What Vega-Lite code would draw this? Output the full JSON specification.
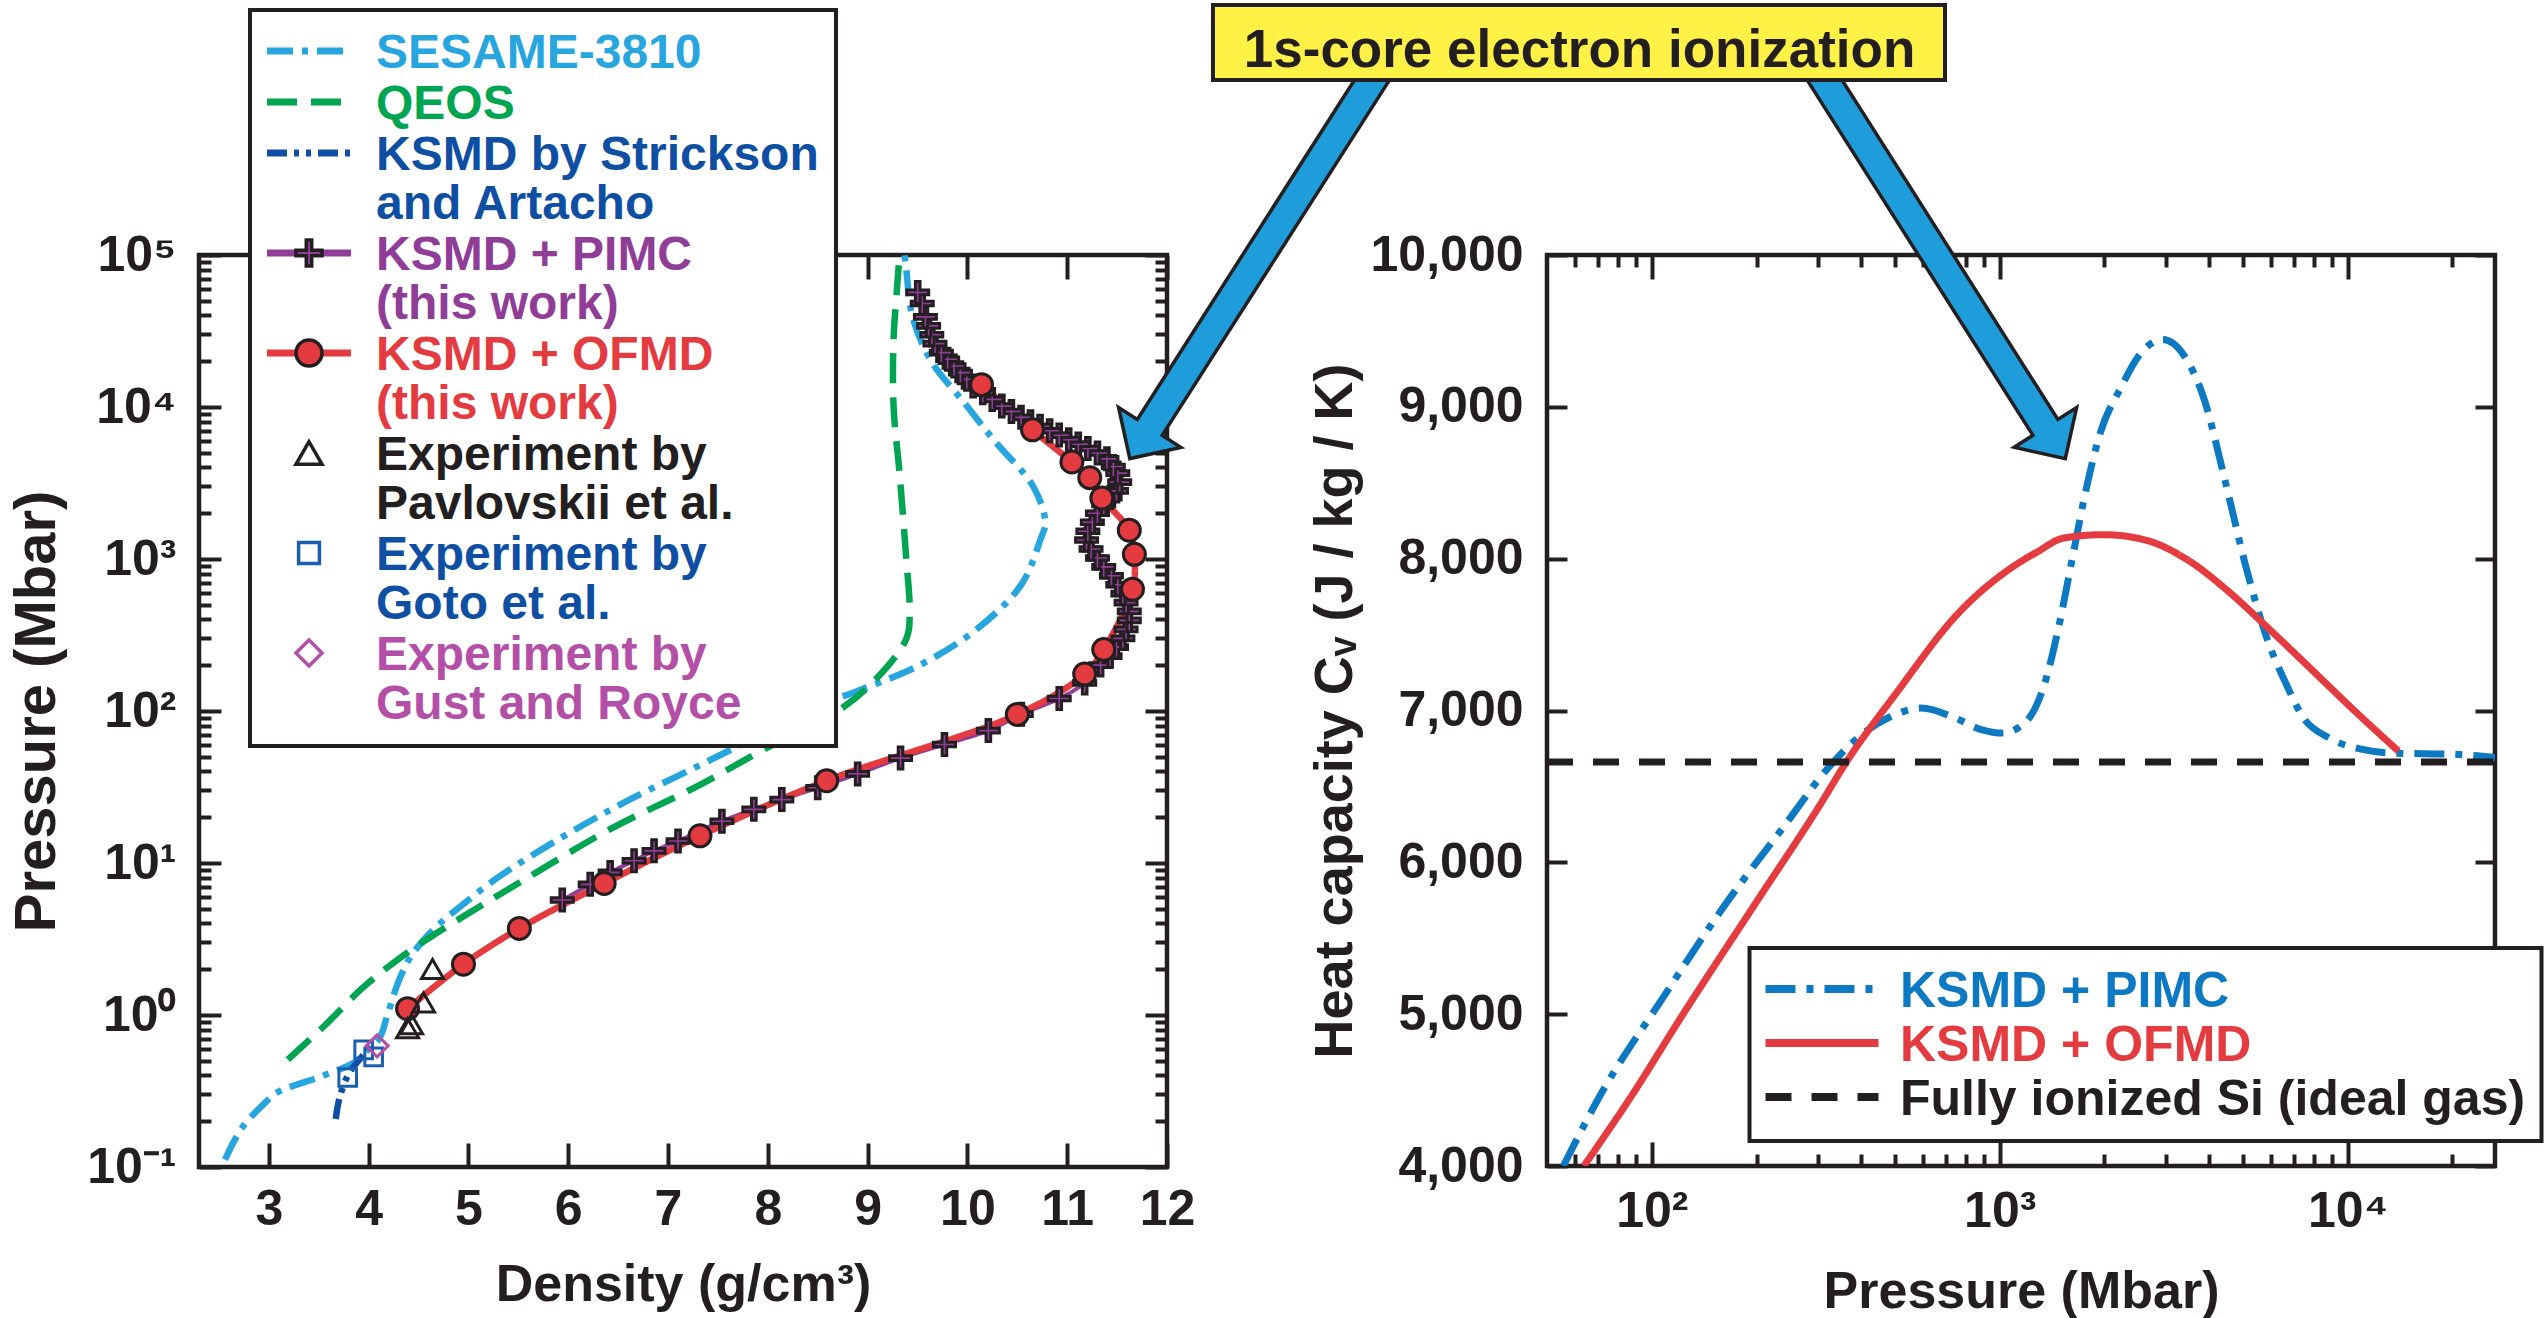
{
  "$schema": "https://vega.github.io/schema/vega-lite/v6.json",
  "background": "white",
  "padding": {"left": 6, "top": 0, "right": 0, "bottom": 0},
  "bounds": "flush",
  "spacing": 380,
  "datasets": {
    "eos": [
      {"series": "SESAME-3810", "d": 2.56, "p": 0.112},
      {"series": "SESAME-3810", "d": 2.73, "p": 0.181},
      {"series": "SESAME-3810", "d": 2.96, "p": 0.264},
      {"series": "SESAME-3810", "d": 3.07, "p": 0.306},
      {"series": "SESAME-3810", "d": 3.55, "p": 0.40},
      {"series": "SESAME-3810", "d": 3.87, "p": 0.493},
      {"series": "SESAME-3810", "d": 3.99, "p": 0.59},
      {"series": "SESAME-3810", "d": 4.11, "p": 0.706},
      {"series": "SESAME-3810", "d": 4.19, "p": 1.01},
      {"series": "SESAME-3810", "d": 4.31, "p": 1.73},
      {"series": "SESAME-3810", "d": 4.43, "p": 2.47},
      {"series": "SESAME-3810", "d": 4.67, "p": 3.76},
      {"series": "SESAME-3810", "d": 4.95, "p": 5.37},
      {"series": "SESAME-3810", "d": 5.31, "p": 8.16},
      {"series": "SESAME-3810", "d": 5.94, "p": 14.8},
      {"series": "SESAME-3810", "d": 6.58, "p": 25.4},
      {"series": "SESAME-3810", "d": 7.30, "p": 43.4},
      {"series": "SESAME-3810", "d": 7.94, "p": 70.2},
      {"series": "SESAME-3810", "d": 8.58, "p": 113},
      {"series": "SESAME-3810", "d": 8.88, "p": 134},
      {"series": "SESAME-3810", "d": 9.52, "p": 200},
      {"series": "SESAME-3810", "d": 10.09, "p": 344},
      {"series": "SESAME-3810", "d": 10.54, "p": 678},
      {"series": "SESAME-3810", "d": 10.73, "p": 1334},
      {"series": "SESAME-3810", "d": 10.78, "p": 1746},
      {"series": "SESAME-3810", "d": 10.66, "p": 3000},
      {"series": "SESAME-3810", "d": 10.28, "p": 5900},
      {"series": "SESAME-3810", "d": 9.96, "p": 10840},
      {"series": "SESAME-3810", "d": 9.64, "p": 19910},
      {"series": "SESAME-3810", "d": 9.45, "p": 39170},
      {"series": "SESAME-3810", "d": 9.39, "p": 77090},
      {"series": "SESAME-3810", "d": 9.37, "p": 100000},
      {"series": "QEOS", "d": 3.19, "p": 0.508},
      {"series": "QEOS", "d": 3.55, "p": 0.84},
      {"series": "QEOS", "d": 3.95, "p": 1.53},
      {"series": "QEOS", "d": 4.35, "p": 2.47},
      {"series": "QEOS", "d": 4.83, "p": 3.98},
      {"series": "QEOS", "d": 5.55, "p": 7.7},
      {"series": "QEOS", "d": 6.42, "p": 16.7},
      {"series": "QEOS", "d": 7.30, "p": 32.2},
      {"series": "QEOS", "d": 8.02, "p": 58.5},
      {"series": "QEOS", "d": 8.58, "p": 89},
      {"series": "QEOS", "d": 9.00, "p": 143},
      {"series": "QEOS", "d": 9.39, "p": 301},
      {"series": "QEOS", "d": 9.42, "p": 483},
      {"series": "QEOS", "d": 9.39, "p": 950},
      {"series": "QEOS", "d": 9.32, "p": 3673},
      {"series": "QEOS", "d": 9.26, "p": 10140},
      {"series": "QEOS", "d": 9.26, "p": 27930},
      {"series": "QEOS", "d": 9.29, "p": 54950},
      {"series": "QEOS", "d": 9.32, "p": 100000},
      {"series": "KSMD by Strickson|and Artacho", "d": 3.67, "p": 0.207},
      {"series": "KSMD by Strickson|and Artacho", "d": 3.71, "p": 0.288},
      {"series": "KSMD by Strickson|and Artacho", "d": 3.80, "p": 0.41},
      {"series": "KSMD by Strickson|and Artacho", "d": 3.92, "p": 0.52},
      {"series": "KSMD by Strickson|and Artacho", "d": 4.02, "p": 0.62},
      {"series": "KSMD + PIMC|(this work)", "d": 5.94, "p": 5.71},
      {"series": "KSMD + PIMC|(this work)", "d": 6.22, "p": 7.24},
      {"series": "KSMD + PIMC|(this work)", "d": 6.42, "p": 8.67},
      {"series": "KSMD + PIMC|(this work)", "d": 6.66, "p": 10.35},
      {"series": "KSMD + PIMC|(this work)", "d": 6.86, "p": 12.02},
      {"series": "KSMD + PIMC|(this work)", "d": 7.10, "p": 13.96},
      {"series": "KSMD + PIMC|(this work)", "d": 7.54, "p": 18.84},
      {"series": "KSMD + PIMC|(this work)", "d": 7.86, "p": 22.54},
      {"series": "KSMD + PIMC|(this work)", "d": 8.14, "p": 26.12},
      {"series": "KSMD + PIMC|(this work)", "d": 8.50, "p": 31.26},
      {"series": "KSMD + PIMC|(this work)", "d": 8.90, "p": 38.55},
      {"series": "KSMD + PIMC|(this work)", "d": 9.33, "p": 48.98},
      {"series": "KSMD + PIMC|(this work)", "d": 9.77, "p": 60.26},
      {"series": "KSMD + PIMC|(this work)", "d": 10.21, "p": 74.3},
      {"series": "KSMD + PIMC|(this work)", "d": 10.54, "p": 95.3},
      {"series": "KSMD + PIMC|(this work)", "d": 10.92, "p": 120.8},
      {"series": "KSMD + PIMC|(this work)", "d": 11.175, "p": 153.1},
      {"series": "KSMD + PIMC|(this work)", "d": 11.335, "p": 200.4},
      {"series": "KSMD + PIMC|(this work)", "d": 11.43, "p": 229.6},
      {"series": "KSMD + PIMC|(this work)", "d": 11.494, "p": 263.0},
      {"series": "KSMD + PIMC|(this work)", "d": 11.558, "p": 300.6},
      {"series": "KSMD + PIMC|(this work)", "d": 11.59, "p": 344.4},
      {"series": "KSMD + PIMC|(this work)", "d": 11.622, "p": 394.5},
      {"series": "KSMD + PIMC|(this work)", "d": 11.622, "p": 451.9},
      {"series": "KSMD + PIMC|(this work)", "d": 11.59, "p": 516.4},
      {"series": "KSMD + PIMC|(this work)", "d": 11.558, "p": 591.6},
      {"series": "KSMD + PIMC|(this work)", "d": 11.507, "p": 677.5},
      {"series": "KSMD + PIMC|(this work)", "d": 11.443, "p": 776.2},
      {"series": "KSMD + PIMC|(this work)", "d": 11.366, "p": 887.2},
      {"series": "KSMD + PIMC|(this work)", "d": 11.303, "p": 1016},
      {"series": "KSMD + PIMC|(this work)", "d": 11.239, "p": 1164},
      {"series": "KSMD + PIMC|(this work)", "d": 11.194, "p": 1334},
      {"series": "KSMD + PIMC|(this work)", "d": 11.207, "p": 1524},
      {"series": "KSMD + PIMC|(this work)", "d": 11.252, "p": 1746},
      {"series": "KSMD + PIMC|(this work)", "d": 11.303, "p": 2000},
      {"series": "KSMD + PIMC|(this work)", "d": 11.366, "p": 2286},
      {"series": "KSMD + PIMC|(this work)", "d": 11.43, "p": 2535},
      {"series": "KSMD + PIMC|(this work)", "d": 11.494, "p": 2805},
      {"series": "KSMD + PIMC|(this work)", "d": 11.526, "p": 3206},
      {"series": "KSMD + PIMC|(this work)", "d": 11.507, "p": 3673},
      {"series": "KSMD + PIMC|(this work)", "d": 11.462, "p": 4064},
      {"series": "KSMD + PIMC|(this work)", "d": 11.398, "p": 4560},
      {"series": "KSMD + PIMC|(this work)", "d": 11.303, "p": 4977},
      {"series": "KSMD + PIMC|(this work)", "d": 11.207, "p": 5333},
      {"series": "KSMD + PIMC|(this work)", "d": 11.111, "p": 5702},
      {"series": "KSMD + PIMC|(this work)", "d": 11.015, "p": 6095},
      {"series": "KSMD + PIMC|(this work)", "d": 10.92, "p": 6531},
      {"series": "KSMD + PIMC|(this work)", "d": 10.824, "p": 6982},
      {"series": "KSMD + PIMC|(this work)", "d": 10.728, "p": 7464},
      {"series": "KSMD + PIMC|(this work)", "d": 10.632, "p": 7998},
      {"series": "KSMD + PIMC|(this work)", "d": 10.537, "p": 8551},
      {"series": "KSMD + PIMC|(this work)", "d": 10.441, "p": 9333},
      {"series": "KSMD + PIMC|(this work)", "d": 10.345, "p": 10140},
      {"series": "KSMD + PIMC|(this work)", "d": 10.249, "p": 11220},
      {"series": "KSMD + PIMC|(this work)", "d": 10.154, "p": 12420},
      {"series": "KSMD + PIMC|(this work)", "d": 10.058, "p": 13740},
      {"series": "KSMD + PIMC|(this work)", "d": 9.994, "p": 15210},
      {"series": "KSMD + PIMC|(this work)", "d": 9.93, "p": 16830},
      {"series": "KSMD + PIMC|(this work)", "d": 9.866, "p": 18620},
      {"series": "KSMD + PIMC|(this work)", "d": 9.802, "p": 20610},
      {"series": "KSMD + PIMC|(this work)", "d": 9.739, "p": 22800},
      {"series": "KSMD + PIMC|(this work)", "d": 9.675, "p": 26120},
      {"series": "KSMD + PIMC|(this work)", "d": 9.643, "p": 29850},
      {"series": "KSMD + PIMC|(this work)", "d": 9.611, "p": 34200},
      {"series": "KSMD + PIMC|(this work)", "d": 9.579, "p": 39170},
      {"series": "KSMD + PIMC|(this work)", "d": 9.547, "p": 47970},
      {"series": "KSMD + PIMC|(this work)", "d": 9.502, "p": 56750},
      {"series": "KSMD + OFMD|(this work)", "d": 4.39, "p": 1.10},
      {"series": "KSMD + OFMD|(this work)", "d": 4.95, "p": 2.16},
      {"series": "KSMD + OFMD|(this work)", "d": 5.51, "p": 3.71},
      {"series": "KSMD + OFMD|(this work)", "d": 6.36, "p": 7.33},
      {"series": "KSMD + OFMD|(this work)", "d": 7.32, "p": 15.1},
      {"series": "KSMD + OFMD|(this work)", "d": 8.59, "p": 34.8},
      {"series": "KSMD + OFMD|(this work)", "d": 10.50, "p": 95},
      {"series": "KSMD + OFMD|(this work)", "d": 11.175, "p": 175},
      {"series": "KSMD + OFMD|(this work)", "d": 11.366, "p": 254},
      {"series": "KSMD + OFMD|(this work)", "d": 11.654, "p": 633},
      {"series": "KSMD + OFMD|(this work)", "d": 11.673, "p": 1074},
      {"series": "KSMD + OFMD|(this work)", "d": 11.622, "p": 1547},
      {"series": "KSMD + OFMD|(this work)", "d": 11.347, "p": 2520},
      {"series": "KSMD + OFMD|(this work)", "d": 11.226, "p": 3430},
      {"series": "KSMD + OFMD|(this work)", "d": 11.047, "p": 4350},
      {"series": "KSMD + OFMD|(this work)", "d": 10.652, "p": 7080},
      {"series": "KSMD + OFMD|(this work)", "d": 10.141, "p": 14030},
      {"series": "Experiment by|Pavlovskii et al.", "d": 4.39, "p": 0.82},
      {"series": "Experiment by|Pavlovskii et al.", "d": 4.43, "p": 0.87},
      {"series": "Experiment by|Pavlovskii et al.", "d": 4.55, "p": 1.21},
      {"series": "Experiment by|Pavlovskii et al.", "d": 4.64, "p": 2.01},
      {"series": "Experiment by|Goto et al.", "d": 3.79, "p": 0.388},
      {"series": "Experiment by|Goto et al.", "d": 3.95, "p": 0.59},
      {"series": "Experiment by|Goto et al.", "d": 4.05, "p": 0.53},
      {"series": "Experiment by|Gust and Royce", "d": 4.085, "p": 0.627}
    ],
    "cv": [
      {"series": "KSMD + PIMC", "p": 55.7, "cv": 4000},
      {"series": "KSMD + PIMC", "p": 70.4, "cv": 4448},
      {"series": "KSMD + PIMC", "p": 109.4, "cv": 5132},
      {"series": "KSMD + PIMC", "p": 158.5, "cv": 5686},
      {"series": "KSMD + PIMC", "p": 240.7, "cv": 6241},
      {"series": "KSMD + PIMC", "p": 318, "cv": 6610},
      {"series": "KSMD + PIMC", "p": 401, "cv": 6841},
      {"series": "KSMD + PIMC", "p": 483, "cv": 6957},
      {"series": "KSMD + PIMC", "p": 596, "cv": 7016},
      {"series": "KSMD + PIMC", "p": 734, "cv": 6957},
      {"series": "KSMD + PIMC", "p": 884, "cv": 6874},
      {"series": "KSMD + PIMC", "p": 1016, "cv": 6851},
      {"series": "KSMD + PIMC", "p": 1196, "cv": 6933},
      {"series": "KSMD + PIMC", "p": 1341, "cv": 7165},
      {"series": "KSMD + PIMC", "p": 1472, "cv": 7534},
      {"series": "KSMD + PIMC", "p": 1615, "cv": 7997},
      {"series": "KSMD + PIMC", "p": 1772, "cv": 8459},
      {"series": "KSMD + PIMC", "p": 1945, "cv": 8828},
      {"series": "KSMD + PIMC", "p": 2233, "cv": 9130},
      {"series": "KSMD + PIMC", "p": 2509, "cv": 9336},
      {"series": "KSMD + PIMC", "p": 2940, "cv": 9443},
      {"series": "KSMD + PIMC", "p": 3378, "cv": 9341},
      {"series": "KSMD + PIMC", "p": 3873, "cv": 9046},
      {"series": "KSMD + PIMC", "p": 4437, "cv": 8518},
      {"series": "KSMD + PIMC", "p": 5084, "cv": 7958},
      {"series": "KSMD + PIMC", "p": 5834, "cv": 7488},
      {"series": "KSMD + PIMC", "p": 6683, "cv": 7165},
      {"series": "KSMD + PIMC", "p": 7455, "cv": 6953},
      {"series": "KSMD + PIMC", "p": 8783, "cv": 6823},
      {"series": "KSMD + PIMC", "p": 10940, "cv": 6745},
      {"series": "KSMD + PIMC", "p": 13620, "cv": 6719},
      {"series": "KSMD + PIMC", "p": 19950, "cv": 6712},
      {"series": "KSMD + PIMC", "p": 26500, "cv": 6690},
      {"series": "KSMD + OFMD", "p": 63.8, "cv": 4000},
      {"series": "KSMD + OFMD", "p": 86.7, "cv": 4448},
      {"series": "KSMD + OFMD", "p": 123, "cv": 5000},
      {"series": "KSMD + OFMD", "p": 200, "cv": 5740},
      {"series": "KSMD + OFMD", "p": 300, "cv": 6355},
      {"series": "KSMD + OFMD", "p": 365, "cv": 6671},
      {"series": "KSMD + OFMD", "p": 506, "cv": 7119},
      {"series": "KSMD + OFMD", "p": 757, "cv": 7636},
      {"series": "KSMD + OFMD", "p": 1109, "cv": 7958},
      {"series": "KSMD + OFMD", "p": 1281, "cv": 8044},
      {"series": "KSMD + OFMD", "p": 1527, "cv": 8136},
      {"series": "KSMD + OFMD", "p": 1991, "cv": 8158},
      {"series": "KSMD + OFMD", "p": 2638, "cv": 8121},
      {"series": "KSMD + OFMD", "p": 3477, "cv": 7990},
      {"series": "KSMD + OFMD", "p": 4565, "cv": 7780},
      {"series": "KSMD + OFMD", "p": 5987, "cv": 7530},
      {"series": "KSMD + OFMD", "p": 7871, "cv": 7270},
      {"series": "KSMD + OFMD", "p": 10440, "cv": 7000},
      {"series": "KSMD + OFMD", "p": 13990, "cv": 6732},
      {"series": "Fully ionized Si (ideal gas)", "p": 50, "cv": 6660},
      {"series": "Fully ionized Si (ideal gas)", "p": 26500, "cv": 6660}
    ]
  },
  "config": {
    "font": "Liberation Sans",
    "view": {"stroke": "#231f20", "strokeWidth": 4.5},
    "axis": {
      "domain": false,
      "grid": false,
      "tickColor": "#231f20",
      "tickWidth": 4,
      "labelFont": "Liberation Sans",
      "labelFontSize": 50,
      "labelFontWeight": "bold",
      "labelColor": "#231f20",
      "labelFlush": false,
      "labelOverlap": false,
      "labelBound": false,
      "titleFont": "Liberation Sans",
      "titleFontSize": 52,
      "titleFontWeight": "bold",
      "titleColor": "#231f20"
    },
    "legend": {"labelFont": "Liberation Sans", "labelFontWeight": "bold"}
  },
  "resolve": {"scale": {"color": "independent", "strokeDash": "independent", "shape": "independent", "fill": "independent", "stroke": "independent"}},
  "hconcat": [
    {
      "width": 968,
      "height": 912,
      "resolve": {"axis": {"x": "independent", "y": "independent"}},
      "layer": [
        {
          "data": {"name": "eos"},
          "transform": [{"filter": {"field": "series", "equal": "KSMD + PIMC|(this work)"}}],
          "mark": {"type": "line", "interpolate": "catmull-rom", "clip": true, "strokeWidth": 4},
          "encoding": {
            "x": {"field": "d", "type": "quantitative", "axis": null},
            "y": {"field": "p", "type": "quantitative", "axis": null},
            "order": {"field": "p", "type": "quantitative"},
            "color": {
              "field": "series", "type": "nominal",
              "scale": {
                "domain": ["SESAME-3810", "QEOS", "KSMD by Strickson|and Artacho", "KSMD + PIMC|(this work)", "KSMD + OFMD|(this work)", "Experiment by|Pavlovskii et al.", "Experiment by|Goto et al.", "Experiment by|Gust and Royce"],
                "range": ["#27a5df", "#00a551", "#0f4fa3", "#8f3d97", "#e33b3f", "transparent", "transparent", "transparent"]
              },
              "legend": {
                "title": null, "orient": "none", "legendX": 51, "legendY": -245,
                "padding": 17, "strokeColor": "#231f20", "fillColor": "white",
                "symbolType": "M-4,0H4", "symbolSize": 441, "symbolStrokeWidth": 7, "symbolOffset": 18,
                "labelFontSize": 48, "labelOffset": 43, "labelLimit": 1000, "labelBaseline": "top",
                "rowPadding": -2,
                "labelExpr": "split(datum.label, '|')",
                "encode": {
                  "legend": {"update": {"strokeWidth": {"value": 4}}},
                  "labels": {"update": {
                    "fill": {"signal": "['#27a5df','#00a551','#0f4fa3','#8f3d97','#e33b3f','#231f20','#0f4fa3','#b34fa6'][datum.index]"},
                    "dy": {"value": -21},
                    "lineHeight": {"value": 49}
                  }}
                }
              }
            },
            "strokeDash": {
              "field": "series", "type": "nominal",
              "scale": {
                "domain": ["SESAME-3810", "QEOS", "KSMD by Strickson|and Artacho", "KSMD + PIMC|(this work)", "KSMD + OFMD|(this work)", "Experiment by|Pavlovskii et al.", "Experiment by|Goto et al.", "Experiment by|Gust and Royce"],
                "range": [[26, 9, 6, 9], [30, 14], [20, 7, 5, 7, 5, 7], [1, 0], [1, 0], [1, 0], [1, 0], [1, 0]]
              },
              "legend": {
                "title": null, "orient": "none", "legendX": 51, "legendY": -245,
                "padding": 17, "strokeColor": "#231f20", "fillColor": "white",
                "symbolType": "M-4,0H4", "symbolSize": 441, "symbolStrokeWidth": 7, "symbolOffset": 18,
                "labelFontSize": 48, "labelOffset": 43, "labelLimit": 1000, "labelBaseline": "top",
                "rowPadding": -2,
                "labelExpr": "split(datum.label, '|')",
                "encode": {
                  "legend": {"update": {"strokeWidth": {"value": 4}}},
                  "labels": {"update": {
                    "fill": {"signal": "['#27a5df','#00a551','#0f4fa3','#8f3d97','#e33b3f','#231f20','#0f4fa3','#b34fa6'][datum.index]"},
                    "dy": {"value": -21},
                    "lineHeight": {"value": 49}
                  }}
                }
              }
            }
          }
        },
        {
          "data": {"name": "eos"},
          "transform": [{"filter": {"field": "series", "oneOf": ["SESAME-3810", "QEOS", "KSMD by Strickson|and Artacho", "KSMD + OFMD|(this work)"]}}],
          "mark": {"type": "line", "interpolate": "catmull-rom", "clip": true, "strokeWidth": 6.5},
          "encoding": {
            "x": {
              "field": "d", "type": "quantitative",
              "scale": {"domain": [2.3, 12], "nice": false, "zero": false},
              "axis": {"title": "Density (g/cm³)", "values": [3, 4, 5, 6, 7, 8, 9, 10, 11, 12], "tickSize": -24, "labelPadding": 41, "titlePadding": 25}
            },
            "y": {
              "field": "p", "type": "quantitative",
              "scale": {"type": "log", "domain": [0.1, 100000], "nice": false},
              "axis": {
                "title": "Pressure (Mbar)", "titleFontSize": 58, "titlePadding": 20,
                "values": [0.1, 0.2, 0.3, 0.4, 0.5, 0.6, 0.7, 0.8, 0.9, 1, 2, 3, 4, 5, 6, 7, 8, 9, 10, 20, 30, 40, 50, 60, 70, 80, 90, 100, 200, 300, 400, 500, 600, 700, 800, 900, 1000, 2000, 3000, 4000, 5000, 6000, 7000, 8000, 9000, 10000, 20000, 30000, 40000, 50000, 60000, 70000, 80000, 90000, 100000],
                "tickSize": {"condition": {"test": "indexof([0.1,1,10,100,1000,10000,100000], datum.value) >= 0", "value": -22}, "value": -12},
                "labelPadding": 45,
                "labelExpr": "['10⁻¹','10⁰','10¹','10²','10³','10⁴','10⁵'][indexof([0.1,1,10,100,1000,10000,100000], datum.value)] || ''"
              }
            },
            "order": {"field": "p", "type": "quantitative"},
            "color": {"field": "series", "type": "nominal"},
            "strokeDash": {"field": "series", "type": "nominal"}
          }
        },
        {
          "data": {"name": "eos"},
          "transform": [{"filter": {"field": "series", "oneOf": ["KSMD + PIMC|(this work)", "KSMD + OFMD|(this work)", "Experiment by|Pavlovskii et al.", "Experiment by|Goto et al.", "Experiment by|Gust and Royce"]}}],
          "mark": {"type": "point", "filled": true, "size": 484, "strokeWidth": 3, "opacity": 1},
          "encoding": {
            "x": {
              "field": "d", "type": "quantitative",
              "axis": {"orient": "top", "labels": false, "title": null, "values": [3, 4, 5, 6, 7, 8, 9, 10, 11, 12], "tickSize": -24}
            },
            "y": {
              "field": "p", "type": "quantitative",
              "axis": {
                "orient": "right", "labels": false, "title": null,
                "values": [0.1, 0.2, 0.3, 0.4, 0.5, 0.6, 0.7, 0.8, 0.9, 1, 2, 3, 4, 5, 6, 7, 8, 9, 10, 20, 30, 40, 50, 60, 70, 80, 90, 100, 200, 300, 400, 500, 600, 700, 800, 900, 1000, 2000, 3000, 4000, 5000, 6000, 7000, 8000, 9000, 10000, 20000, 30000, 40000, 50000, 60000, 70000, 80000, 90000, 100000],
                "tickSize": {"condition": {"test": "indexof([0.1,1,10,100,1000,10000,100000], datum.value) >= 0", "value": -22}, "value": -12}
              }
            },
            "shape": {
              "field": "series", "type": "nominal",
              "scale": {
                "domain": ["SESAME-3810 ", "QEOS ", "KSMD by Strickson|and Artacho ", "KSMD + PIMC|(this work)", "KSMD + OFMD|(this work)", "Experiment by|Pavlovskii et al.", "Experiment by|Goto et al.", "Experiment by|Gust and Royce"],
                "range": [
                  "circle", "circle", "circle",
                  "M-0.21,-1H0.21V-0.21H1V0.21H0.21V1H-0.21V0.21H-1V-0.21H-0.21Z",
                  "circle",
                  "triangle-up",
                  "M-0.8,-0.8H0.8V0.8H-0.8Z",
                  "diamond"
                ]
              },
              "legend": {
                "title": null, "orient": "none", "legendX": 51, "legendY": -245,
                "padding": 17, "symbolSize": 676, "symbolStrokeWidth": 3.5, "symbolOpacity": 1, "symbolOffset": 18,
                "labelFontSize": 48, "labelOffset": 43, "labelLimit": 1000, "labelBaseline": "top", "labelOpacity": 0,
                "rowPadding": -2,
                "labelExpr": "split(datum.label, '|')",
                "encode": {"labels": {"update": {"dy": {"value": -21}, "lineHeight": {"value": 49}}}}
              }
            },
            "fill": {
              "field": "series", "type": "nominal",
              "scale": {
                "domain": ["SESAME-3810 ", "QEOS ", "KSMD by Strickson|and Artacho ", "KSMD + PIMC|(this work)", "KSMD + OFMD|(this work)", "Experiment by|Pavlovskii et al.", "Experiment by|Goto et al.", "Experiment by|Gust and Royce"],
                "range": ["transparent", "transparent", "transparent", "#8f3d97", "#e33b3f", "transparent", "transparent", "transparent"]
              },
              "legend": {
                "title": null, "orient": "none", "legendX": 51, "legendY": -245,
                "padding": 17, "symbolSize": 676, "symbolStrokeWidth": 3.5, "symbolOpacity": 1, "symbolOffset": 18,
                "labelFontSize": 48, "labelOffset": 43, "labelLimit": 1000, "labelBaseline": "top", "labelOpacity": 0,
                "rowPadding": -2,
                "labelExpr": "split(datum.label, '|')",
                "encode": {"labels": {"update": {"dy": {"value": -21}, "lineHeight": {"value": 49}}}}
              }
            },
            "stroke": {
              "field": "series", "type": "nominal",
              "scale": {
                "domain": ["SESAME-3810 ", "QEOS ", "KSMD by Strickson|and Artacho ", "KSMD + PIMC|(this work)", "KSMD + OFMD|(this work)", "Experiment by|Pavlovskii et al.", "Experiment by|Goto et al.", "Experiment by|Gust and Royce"],
                "range": ["transparent", "transparent", "transparent", "#231f20", "#231f20", "#231f20", "#1b5eb0", "#b34fa6"]
              },
              "legend": {
                "title": null, "orient": "none", "legendX": 51, "legendY": -245,
                "padding": 17, "symbolSize": 676, "symbolStrokeWidth": 3.5, "symbolOpacity": 1, "symbolOffset": 18,
                "labelFontSize": 48, "labelOffset": 43, "labelLimit": 1000, "labelBaseline": "top", "labelOpacity": 0,
                "rowPadding": -2,
                "labelExpr": "split(datum.label, '|')",
                "encode": {"labels": {"update": {"dy": {"value": -21}, "lineHeight": {"value": 49}}}}
              }
            }
          }
        },
        {
          "data": {"values": [{"d": 14.215, "p": 2070000, "d2": 11.827, "p2": 7341}]},
          "mark": {"type": "rule", "color": "#231f20", "strokeWidth": 33},
          "encoding": {
            "x": {"field": "d", "type": "quantitative", "axis": null},
            "y": {"field": "p", "type": "quantitative", "axis": null},
            "x2": {"field": "d2"},
            "y2": {"field": "p2"}
          }
        },
        {
          "data": {"values": [{"d": 11.827, "p": 7341}]},
          "mark": {"type": "point", "shape": "M-1,0L1,0L0,1Z", "size": 5476, "angle": 32.6, "filled": true, "fill": "#1f9ddb", "stroke": "#231f20", "strokeWidth": 3.5, "opacity": 1},
          "encoding": {
            "x": {"field": "d", "type": "quantitative", "axis": null},
            "y": {"field": "p", "type": "quantitative", "axis": null}
          }
        },
        {
          "data": {"values": [{"d": 14.215, "p": 2070000, "d2": 11.795, "p2": 6792}]},
          "mark": {"type": "rule", "color": "#1f9ddb", "strokeWidth": 26},
          "encoding": {
            "x": {"field": "d", "type": "quantitative", "axis": null},
            "y": {"field": "p", "type": "quantitative", "axis": null},
            "x2": {"field": "d2"},
            "y2": {"field": "p2"}
          }
        }
      ]
    },
    {
      "width": 948,
      "height": 911,
      "resolve": {"axis": {"x": "independent", "y": "independent"}},
      "layer": [
        {
          "data": {"name": "cv"},
          "mark": {"type": "line", "interpolate": "monotone", "clip": true, "strokeWidth": 7},
          "encoding": {
            "x": {
              "field": "p", "type": "quantitative",
              "scale": {"type": "log", "domain": [50, 26500], "nice": false},
              "axis": {
                "title": "Pressure (Mbar)", "titlePadding": 18,
                "values": [60, 70, 80, 90, 100, 200, 300, 400, 500, 600, 700, 800, 900, 1000, 2000, 3000, 4000, 5000, 6000, 7000, 8000, 9000, 10000, 20000],
                "tickSize": {"condition": {"test": "indexof([100,1000,10000], datum.value) >= 0", "value": -24}, "value": -12},
                "labelPadding": 44,
                "labelExpr": "['10²','10³','10⁴'][indexof([100,1000,10000], datum.value)] || ''"
              }
            },
            "y": {
              "field": "cv", "type": "quantitative",
              "scale": {"domain": [4000, 10000], "nice": false, "zero": false},
              "axis": {
                "title": "Heat capacity Cᵥ (J / kg / K)", "titleFontSize": 54, "titlePadding": 8,
                "values": [4000, 5000, 6000, 7000, 8000, 9000, 10000], "format": ",d",
                "tickSize": -20, "labelPadding": 44
              }
            },
            "color": {
              "field": "series", "type": "nominal",
              "scale": {"domain": ["KSMD + PIMC", "KSMD + OFMD", "Fully ionized Si (ideal gas)"], "range": ["#0d79c2", "#e33b3f", "#231f20"]},
              "legend": {
                "title": null, "orient": "none", "legendX": 202.5, "legendY": 693,
                "padding": 16, "strokeColor": "#231f20", "fillColor": "white",
                "symbolType": "M-5,0H5", "symbolSize": 511, "symbolStrokeWidth": 8, "symbolOffset": 31.5,
                "labelFontSize": 50, "labelOffset": 53, "labelLimit": 1000, "rowPadding": 1,
                "encode": {
                  "legend": {"update": {"strokeWidth": {"value": 4}}},
                  "symbols": {"update": {"strokeDash": {"signal": "datum.index == 2 ? [15, 9] : datum.index == 0 ? [26, 9, 7, 9] : [1, 0]"}}},
                  "labels": {"update": {"fill": {"signal": "['#0d79c2','#e33b3f','#231f20'][datum.index]"}, "dy": {"value": 3}}}
                }
              }
            },
            "strokeDash": {
              "field": "series", "type": "nominal",
              "scale": {"domain": ["KSMD + PIMC", "KSMD + OFMD", "Fully ionized Si (ideal gas)"], "range": [[30, 11, 7, 11], [1, 0], [26, 20]]},
              "legend": {
                "title": null, "orient": "none", "legendX": 202.5, "legendY": 693,
                "padding": 16, "strokeColor": "#231f20", "fillColor": "white",
                "symbolType": "M-5,0H5", "symbolSize": 511, "symbolStrokeWidth": 8, "symbolOffset": 31.5,
                "labelFontSize": 50, "labelOffset": 53, "labelLimit": 1000, "rowPadding": 1,
                "encode": {
                  "legend": {"update": {"strokeWidth": {"value": 4}}},
                  "symbols": {"update": {"strokeDash": {"signal": "datum.index == 2 ? [15, 9] : datum.index == 0 ? [26, 9, 7, 9] : [1, 0]"}}},
                  "labels": {"update": {"fill": {"signal": "['#0d79c2','#e33b3f','#231f20'][datum.index]"}, "dy": {"value": 3}}}
                }
              }
            }
          }
        },
        {
          "data": {"values": [{"p": 282.2, "cv": 11319, "p2": 1353, "cv2": 8864.5}]},
          "mark": {"type": "rule", "color": "#231f20", "strokeWidth": 33},
          "encoding": {
            "x": {
              "field": "p", "type": "quantitative",
              "axis": {
                "orient": "top", "labels": false, "title": null,
                "values": [60, 70, 80, 90, 100, 200, 300, 400, 500, 600, 700, 800, 900, 1000, 2000, 3000, 4000, 5000, 6000, 7000, 8000, 9000, 10000, 20000],
                "tickSize": {"condition": {"test": "indexof([100,1000,10000], datum.value) >= 0", "value": -24}, "value": -12}
              }
            },
            "y": {
              "field": "cv", "type": "quantitative",
              "axis": {"orient": "right", "labels": false, "title": null, "values": [4000, 5000, 6000, 7000, 8000, 9000, 10000], "tickSize": -20}
            },
            "x2": {"field": "p2"},
            "y2": {"field": "cv2"}
          }
        },
        {
          "data": {"values": [{"p": 1353, "cv": 8864.5}]},
          "mark": {"type": "point", "shape": "M-1,0L1,0L0,1Z", "size": 5476, "angle": 327.5, "filled": true, "fill": "#1f9ddb", "stroke": "#231f20", "strokeWidth": 3.5, "opacity": 1},
          "encoding": {
            "x": {"field": "p", "type": "quantitative", "axis": null},
            "y": {"field": "cv", "type": "quantitative", "axis": null}
          }
        },
        {
          "data": {"values": [{"p": 282.2, "cv": 11319, "p2": 1382.4, "cv2": 8831}]},
          "mark": {"type": "rule", "color": "#1f9ddb", "strokeWidth": 26},
          "encoding": {
            "x": {"field": "p", "type": "quantitative", "axis": null},
            "y": {"field": "cv", "type": "quantitative", "axis": null},
            "x2": {"field": "p2"},
            "y2": {"field": "cv2"}
          }
        },
        {
          "data": {"values": [{"p": 5.484, "p2": 696.2, "cv": 11152.6, "cv2": 11646.6}]},
          "mark": {"type": "rect", "fill": "#fff145", "stroke": "#231f20", "strokeWidth": 4},
          "encoding": {
            "x": {"field": "p", "type": "quantitative", "axis": null},
            "y": {"field": "cv", "type": "quantitative", "axis": null},
            "x2": {"field": "p2"},
            "y2": {"field": "cv2"}
          }
        },
        {
          "data": {"values": [{"p": 62, "cv": 11343.6, "label": "1s-core electron ionization"}]},
          "mark": {"type": "text", "font": "Liberation Sans", "fontSize": 53, "fontWeight": "bold", "color": "#231f20", "align": "center", "baseline": "middle"},
          "encoding": {
            "x": {"field": "p", "type": "quantitative", "axis": null},
            "y": {"field": "cv", "type": "quantitative", "axis": null},
            "text": {"field": "label"}
          }
        }
      ]
    }
  ]
}
